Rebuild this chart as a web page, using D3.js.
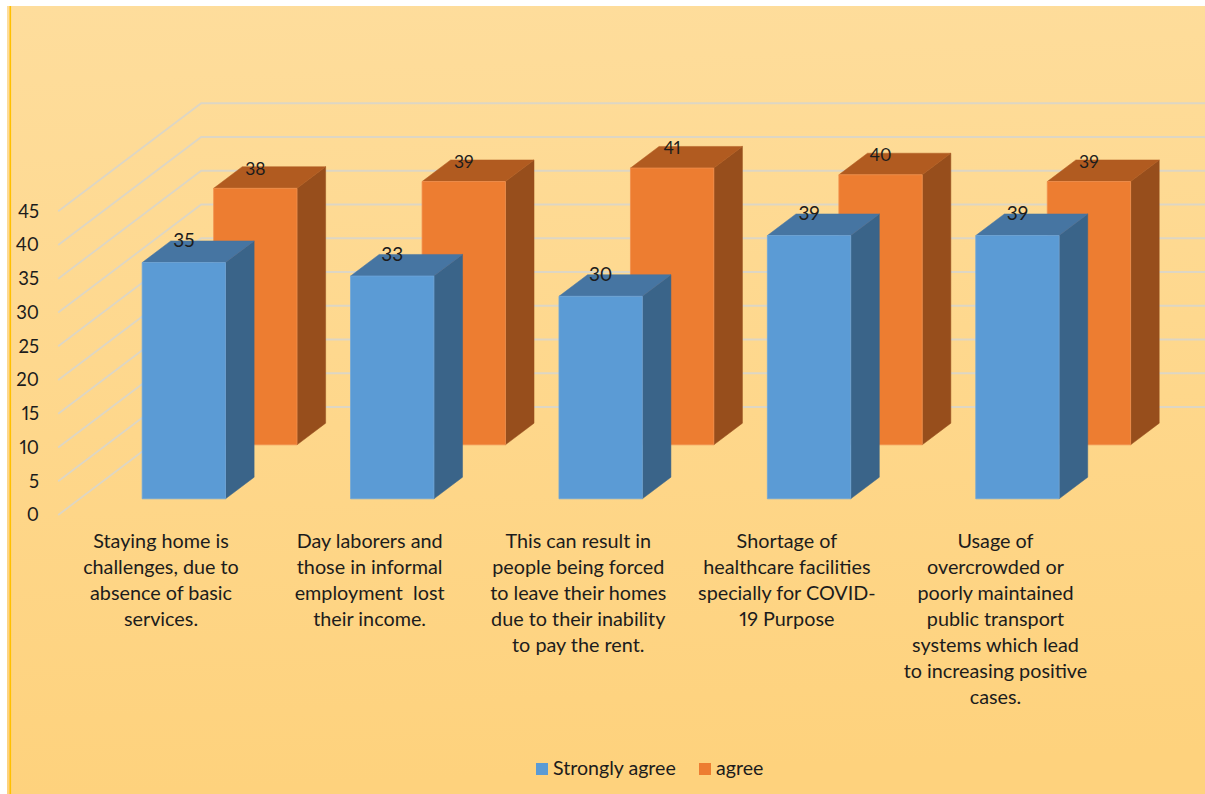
<!DOCTYPE html>
<html>
<head>
<meta charset="utf-8">
<script src="https://cdn.jsdelivr.net/npm/d3@7/dist/d3.min.js"></script>
<style>
  html, body { margin: 0; padding: 0; background: #fff; }
  svg { display: block; }
  text { font-family: Lato, "Open Sans", sans-serif; fill: #1c1c1c; white-space: pre; font-variant-numeric: proportional-nums; }
</style>
</head>
<body>
<svg id="chart" width="1205" height="794"></svg>
<script>
const categories = ["c1", "c2", "c3", "c4", "c5"];
const categoryLines = [
  ["Staying home is", "challenges, due to", "absence of basic", "services."],
  ["Day laborers and", "those in informal", "employment  lost", "their income."],
  ["This can result in", "people being forced", "to leave their homes", "due to their inability", "to pay the rent."],
  ["Shortage of", "healthcare facilities", "specially for COVID-", "19 Purpose"],
  ["Usage of", "overcrowded or", "poorly maintained", "public transport", "systems which lead", "to increasing positive", "cases."]
];
const seriesNames = ["Strongly agree", "agree"];
const stronglyAgree = [35, 33, 30, 39, 39];
const agree = [38, 39, 41, 40, 39];
const tickValues = [0, 5, 10, 15, 20, 25, 30, 35, 40, 45];

const palette = {
  "Strongly agree": { front: "#5B9BD5", top: "#4675A2", side: "#3A6489", edge: "#6FA6D9" },
  "agree": { front: "#ED7D31", top: "#B15B20", side: "#974E1C", edge: "#F08F4E" }
};
const seriesValues = { "Strongly agree": stronglyAgree, "agree": agree };

const svg = d3.select("#chart");
const W = 1205, H = 794;

// Panel background with its soft vertical gradient
const defs = svg.append("defs");
const grad = defs.append("linearGradient")
  .attr("id", "panelFill").attr("x1", 0).attr("y1", 0).attr("x2", 0.06).attr("y2", 1);
grad.append("stop").attr("offset", "0%").attr("stop-color", "#FEDD9C");
grad.append("stop").attr("offset", "100%").attr("stop-color", "#FED27D");
defs.append("clipPath").attr("id", "panelClip")
  .append("rect").attr("x", 7).attr("y", 6).attr("width", W - 7).attr("height", H - 6);

svg.append("rect").attr("x", 7).attr("y", 6).attr("width", W - 7).attr("height", H - 6)
  .attr("fill", "url(#panelFill)");
svg.append("rect").attr("x", 9.5).attr("y", 6).attr("width", 1.6).attr("height", H - 6)
  .attr("fill", "#FFC000");

// Front plane scales
const x = d3.scaleBand().domain(categories).range([58.2, 1100.2]).paddingInner(0.6).paddingOuter(0.3);
const y = d3.scaleLinear().domain([0, 45]).range([515, 211.25]);

// Oblique depth: z runs 0 (front of floor) to 1 (back wall)
const depthX = d3.scaleLinear().domain([0, 1]).range([0, 143]);
const depthY = d3.scaleLinear().domain([0, 1]).range([0, -108]);
const z = d3.scaleBand().domain(seriesNames).range([0, 1]).paddingInner(0.6).paddingOuter(0.3);

const px = (xv, zv) => xv + depthX(zv);
const py = (v, zv) => y(v) + depthY(zv);
const poly = pts => pts.map(p => p.join(",")).join(" ");

// Gridlines along the side wall and back wall
const plot = svg.append("g").attr("clip-path", "url(#panelClip)");
const [x0, x1] = x.range();
plot.selectAll("polyline.grid").data(tickValues).join("polyline")
  .attr("class", "grid")
  .attr("fill", "none")
  .attr("stroke", "#DDD6C4")
  .attr("stroke-width", 1.8)
  .attr("points", v => poly([
    [px(x0, 0), py(v, 0)],
    [px(x0, 1), py(v, 1)],
    [px(x1, 1), py(v, 1)]
  ]));

// Value axis labels
const yAxis = d3.axisLeft(y).tickValues(tickValues).tickSize(0).tickPadding(0);
const axisG = svg.append("g").attr("transform", "translate(39,0)").call(yAxis);
axisG.select(".domain").remove();
axisG.selectAll("text").style("font-size", "18.5px").style("font-family", "Lato, sans-serif").attr("fill", "#1c1c1c");

// Bars, back series first
const drawOrder = seriesNames.slice().reverse();
drawOrder.forEach(name => {
  const c = palette[name];
  const zf = z(name), zb = zf + z.bandwidth();
  const g = plot.append("g").attr("class", "series");
  const rows = categories.map((k, i) => ({ k, v: seriesValues[name][i] }));
  const bar = g.selectAll("g").data(rows).join("g");
  const w = x.bandwidth();
  bar.append("polygon").attr("fill", c.side).attr("stroke", c.side).attr("stroke-width", 0.5)
    .attr("points", d => poly([
      [px(x(d.k) + w, zf), py(0, zf)], [px(x(d.k) + w, zb), py(0, zb)],
      [px(x(d.k) + w, zb), py(d.v, zb)], [px(x(d.k) + w, zf), py(d.v, zf)]
    ]));
  bar.append("polygon").attr("fill", c.top).attr("stroke", c.top).attr("stroke-width", 0.5)
    .attr("points", d => poly([
      [px(x(d.k), zf), py(d.v, zf)], [px(x(d.k) + w, zf), py(d.v, zf)],
      [px(x(d.k) + w, zb), py(d.v, zb)], [px(x(d.k), zb), py(d.v, zb)]
    ]));
  bar.append("polygon").attr("fill", c.front).attr("stroke", c.edge).attr("stroke-width", 0.8)
    .attr("points", d => poly([
      [px(x(d.k), zf), py(0, zf)], [px(x(d.k) + w, zf), py(0, zf)],
      [px(x(d.k) + w, zf), py(d.v, zf)], [px(x(d.k), zf), py(d.v, zf)]
    ]));
  bar.append("text")
    .attr("x", d => px(x(d.k) + w / 2, zf))
    .attr("y", d => py(d.v, zb) + (name === "agree" ? 2 : 0))
    .attr("dy", "0.34em")
    .attr("text-anchor", "middle")
    .style("font-size", name === "agree" ? "17.5px" : "19px")
    .attr("fill", "#111")
    .text(d => d.v);
});

// Category labels below the floor
const labelX = d3.scalePoint().domain(categories).range([161, 995.5]);
const lineHeight = 26;
const catG = svg.append("g").selectAll("text").data(categories).join("text")
  .attr("text-anchor", "middle")
  .style("font-size", "19.8px");
catG.selectAll("tspan").data((k, i) => categoryLines[i].map(t => ({ t, k }))).join("tspan")
  .attr("x", d => labelX(d.k))
  .attr("y", (d, j) => 548 + j * lineHeight)
  .text(d => d.t);

// Legend
const legendItems = [
  { name: seriesNames[0], sx: 536, tx: 553 },
  { name: seriesNames[1], sx: 699, tx: 716 }
];
const legend = svg.append("g").selectAll("g").data(legendItems).join("g");
legend.append("rect").attr("x", d => d.sx).attr("y", 763).attr("width", 12).attr("height", 12)
  .attr("fill", d => palette[d.name].front);
legend.append("text").attr("x", d => d.tx).attr("y", 775).style("font-size", "19.6px").text(d => d.name);
</script>
</body>
</html>
